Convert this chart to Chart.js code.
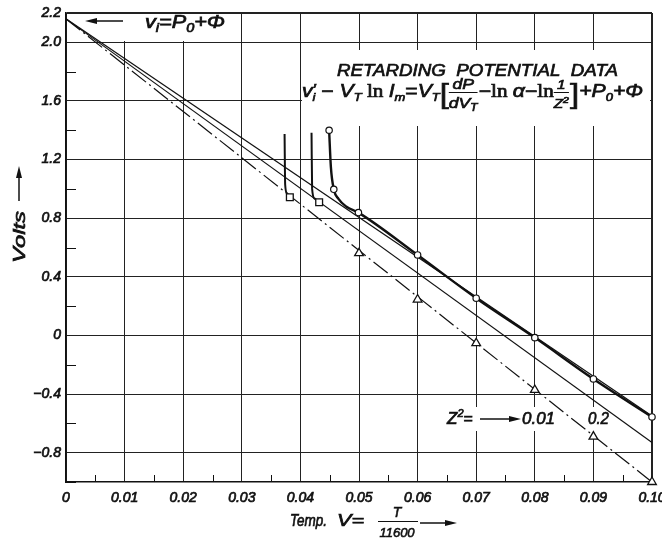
<!DOCTYPE html>
<html>
<head>
<meta charset="utf-8">
<script src="https://cdn.jsdelivr.net/npm/chart.js@4.4.1/dist/chart.umd.min.js"></script>
<style>
  html, body { margin: 0; padding: 0; background: #fff; }
</style>
</head>
<body>
<canvas id="chart" width="662" height="544"></canvas>
<script>
// axis ticks
const xMajor = [0, 0.01, 0.02, 0.03, 0.04, 0.05, 0.06, 0.07, 0.08, 0.09, 0.10];
const xMinor = [0.005, 0.015, 0.025, 0.035, 0.045, 0.055, 0.065, 0.075, 0.085, 0.095];
const yMajor = [-0.8, -0.4, 0, 0.4, 0.8, 1.2, 1.6, 2.0, 2.2];
const yMinor = [-1.0, -0.6, -0.2, 0.2, 0.6, 1.0, 1.4, 1.8];

// straight lines, all leaving v_i = P0 + Phi at V = 0
const lineX = [0, 0.10];
const upperLineY = [2.16, -0.55];
const middleLineY = [2.16, -0.73];
const dashLineY = [2.16, -1.0];

// measured points (circles) and the curve through them
const circleX = [0.0449, 0.0457, 0.0499, 0.06, 0.07, 0.08, 0.09, 0.10];
const circleY = [1.40, 0.997, 0.838, 0.549, 0.254, -0.015, -0.297, -0.556];
const circleCurveX = [0.0449, 0.0452, 0.0457, 0.0465, 0.0478, 0.0499, 0.06, 0.07, 0.08, 0.09, 0.10];
const circleCurveY = [1.40, 1.15, 0.997, 0.932, 0.880, 0.838, 0.549, 0.254, -0.015, -0.297, -0.556];

// squares and the two short curves ending on them
const squareX = [0.0382, 0.0432];
const squareY = [0.943, 0.909];
const sqCurve1X = [0.0373, 0.0374, 0.0377, 0.0382];
const sqCurve1Y = [1.375, 1.03, 0.97, 0.943];
const sqCurve2X = [0.0419, 0.0420, 0.0424, 0.0432];
const sqCurve2Y = [1.383, 1.00, 0.935, 0.909];

// triangles on the dash-dot line
const triX = [0.05, 0.06, 0.07, 0.08, 0.09, 0.10];
const triY = [0.561, 0.245, -0.053, -0.372, -0.690, -1.0];

const FONT = '"Liberation Sans", "DejaVu Sans", sans-serif';
const SERIF = '"Liberation Serif", serif';
const INK = '#111';

const pts = (xs, ys) => xs.map((x, i) => ({ x: x, y: ys[i] }));

function drawParts(ctx, x, y, parts, draw) {
  let cx = x;
  for (const p of parts) {
    if (p.frac) {
      const wn = drawParts(ctx, 0, 0, p.frac[0], false);
      const wd = drawParts(ctx, 0, 0, p.frac[1], false);
      const w = Math.max(wn, wd);
      if (draw) {
        drawParts(ctx, cx + (w - wn) / 2, y - 8, p.frac[0], true);
        drawParts(ctx, cx + (w - wd) / 2, y + 11, p.frac[1], true);
        ctx.fillRect(cx, y - 5, w, 1);
      }
      cx += w + 1;
      continue;
    }
    ctx.font = (p.st || 'italic') + ' ' + p.sz + 'px ' + (p.ff || FONT);
    if (draw) {
      ctx.fillText(p.t, cx + (p.dx || 0), y + (p.dy || 0));
      ctx.lineWidth = 0.7;
      ctx.strokeText(p.t, cx + (p.dx || 0), y + (p.dy || 0));
    }
    if (!p.na) cx += ctx.measureText(p.t).width + (p.dx || 0);
  }
  return cx - x;
}

function fitDraw(ctx, x, y, parts, width) {
  const w = drawParts(ctx, 0, 0, parts, false);
  ctx.save();
  ctx.translate(x, y);
  ctx.scale(width / w, 1);
  drawParts(ctx, 0, 0, parts, true);
  ctx.restore();
}

function arrow(ctx, x1, y1, x2, y2) {
  const a = Math.atan2(y2 - y1, x2 - x1);
  ctx.beginPath();
  ctx.moveTo(x1, y1);
  ctx.lineTo(x2 - 6 * Math.cos(a), y2 - 6 * Math.sin(a));
  ctx.lineWidth = 1.5;
  ctx.stroke();
  ctx.beginPath();
  ctx.moveTo(x2, y2);
  ctx.lineTo(x2 - 12 * Math.cos(a) + 3 * Math.sin(a), y2 - 12 * Math.sin(a) - 3 * Math.cos(a));
  ctx.lineTo(x2 - 12 * Math.cos(a) - 3 * Math.sin(a), y2 - 12 * Math.sin(a) + 3 * Math.cos(a));
  ctx.closePath();
  ctx.fill();
}

const paperPlugin = {
  id: 'paper',
  beforeDatasetsDraw(chart) {
    const ctx = chart.ctx;
    const xs = chart.scales.x, ys = chart.scales.y;
    const area = chart.chartArea;
    ctx.save();
    // white patches behind the texts
    ctx.fillStyle = '#fff';
    ctx.fillRect(68, 14, 168, 27);
    ctx.fillRect(302, 50, 348, 76);
    ctx.fillRect(444, 407, 114, 24);
    ctx.fillRect(585, 407, 28, 24);
    // short minor ticks pointing into the plot
    ctx.strokeStyle = INK;
    ctx.lineWidth = 1;
    ctx.beginPath();
    for (const v of xMinor) {
      const px = Math.round(xs.getPixelForValue(v)) + 0.5;
      ctx.moveTo(px, area.bottom);
      ctx.lineTo(px, area.bottom - 7);
    }
    for (const v of yMinor) {
      const py = Math.round(ys.getPixelForValue(v)) + 0.5;
      ctx.moveTo(area.left, py);
      ctx.lineTo(area.left + 10, py);
    }
    ctx.stroke();
    ctx.restore();
  },
  afterDraw(chart) {
    const ctx = chart.ctx;
    ctx.save();
    ctx.fillStyle = INK;
    ctx.strokeStyle = INK;
    ctx.textBaseline = 'alphabetic';

    // top-left: arrow and v_i = P0 + Phi
    arrow(ctx, 123, 21, 85, 21);
    fitDraw(ctx, 145, 28, [
      { t: 'v', sz: 18 }, { t: 'i', sz: 12, dy: 4 }, { t: '=P', sz: 18 },
      { t: '0', sz: 12, dy: 4 }, { t: '+Φ', sz: 18 }
    ], 80);

    // title
    fitDraw(ctx, 337, 76, [{ t: 'RETARDING  POTENTIAL  DATA', sz: 17 }], 281);

    // formula
    const S = 18, s = 11;
    fitDraw(ctx, 302, 97, [
      { t: 'v', sz: S }, { t: '′', sz: 15, dx: 0, dy: -3, na: true }, { t: 'i', sz: s, dy: 4 },
      { t: ' − ', sz: S, st: 'normal' },
      { t: 'V', sz: S }, { t: 'T', sz: s, dy: 4 },
      { t: ' ln ', sz: S, st: 'normal', ff: SERIF },
      { t: 'I', sz: S }, { t: 'm', sz: s, dy: 4 },
      { t: '=', sz: S, st: 'normal' },
      { t: 'V', sz: S }, { t: 'T', sz: s, dy: 4 },
      { t: '[', sz: 28, st: 'normal', dy: 6 },
      { frac: [[{ t: 'dP', sz: 15 }], [{ t: 'dV', sz: 15 }, { t: 'T', sz: 10, dy: 3 }]] },
      { t: '−', sz: S, st: 'normal' }, { t: 'ln ', sz: S, st: 'normal', ff: SERIF },
      { t: 'α', sz: S }, { t: '−', sz: S, st: 'normal' },
      { t: 'ln', sz: S, st: 'normal', ff: SERIF },
      { frac: [[{ t: '1', sz: 13 }], [{ t: 'Z', sz: 13 }, { t: '2', sz: 9, dy: -5 }]] },
      { t: ']', sz: 28, st: 'normal', dy: 6 },
      { t: '+P', sz: S }, { t: '0', sz: s, dy: 4 }, { t: '+Φ', sz: S }
    ], 341);

    // Z^2 = -> 0.01   0.2
    drawParts(ctx, 447, 424, [
      { t: 'Z', sz: 17 }, { t: '2', sz: 11, dy: -7 }, { t: '=', sz: 16, st: 'normal' }
    ], true);
    arrow(ctx, 480, 419, 521, 419);
    fitDraw(ctx, 522, 424, [{ t: '0.01', sz: 17 }], 33);
    fitDraw(ctx, 588, 424, [{ t: '0.2', sz: 17 }], 21);

    // y axis title
    ctx.save();
    ctx.translate(25, 263);
    ctx.rotate(-Math.PI / 2);
    fitDraw(ctx, 0, 0, [{ t: 'Volts', sz: 17 }], 52);
    ctx.restore();
    arrow(ctx, 19, 201, 19, 166);

    // x axis title
    fitDraw(ctx, 290, 526, [{ t: 'Temp.', sz: 17 }], 37);
    fitDraw(ctx, 337, 526, [{ t: 'V=', sz: 17 }], 27);
    ctx.fillRect(378, 521, 40, 1);
    ctx.textAlign = 'center';
    ctx.lineWidth = 0.6;
    ctx.font = 'italic 14px ' + FONT;
    ctx.fillText('T', 397, 517);
    ctx.strokeText('T', 397, 517);
    ctx.font = 'italic 13px ' + FONT;
    ctx.fillText('11600', 397, 537);
    ctx.strokeText('11600', 397, 537);
    ctx.textAlign = 'left';
    arrow(ctx, 420, 523, 457, 523);
    ctx.restore();
  }
};

const tickFont = { family: FONT, size: 14, style: 'italic' };

new Chart(document.getElementById('chart'), {
  type: 'scatter',
  data: {
    datasets: [
      { data: pts(circleX, circleY), showLine: false, pointStyle: 'circle', pointRadius: 3.2,
        pointBackgroundColor: '#fff', pointBorderColor: INK, pointBorderWidth: 1.2, clip: false, order: 0 },
      { data: pts(squareX, squareY), showLine: false, pointStyle: 'rect', pointRadius: 4.8,
        pointBackgroundColor: '#fff', pointBorderColor: INK, pointBorderWidth: 1.3, clip: false, order: 0 },
      { data: pts(triX, triY), showLine: false, pointStyle: 'triangle', pointRadius: 5,
        pointBackgroundColor: '#fff', pointBorderColor: INK, pointBorderWidth: 1.3, clip: false, order: 0 },
      { data: pts(lineX, upperLineY), showLine: true, borderColor: INK, borderWidth: 1.2, pointRadius: 0, order: 1 },
      { data: pts(lineX, middleLineY), showLine: true, borderColor: INK, borderWidth: 1.2, pointRadius: 0, order: 1 },
      { data: pts(lineX, dashLineY), showLine: true, borderColor: INK, borderWidth: 1.2, pointRadius: 0,
        borderDash: [18, 4, 2, 4], order: 1 },
      { data: pts(circleCurveX, circleCurveY), showLine: true, borderColor: INK, borderWidth: 2.4, pointRadius: 0,
        cubicInterpolationMode: 'monotone', order: 1 },
      { data: pts(sqCurve1X, sqCurve1Y), showLine: true, borderColor: INK, borderWidth: 2, pointRadius: 0,
        cubicInterpolationMode: 'monotone', order: 1 },
      { data: pts(sqCurve2X, sqCurve2Y), showLine: true, borderColor: INK, borderWidth: 2, pointRadius: 0,
        cubicInterpolationMode: 'monotone', order: 1 }
    ]
  },
  options: {
    responsive: false,
    animation: false,
    devicePixelRatio: 1,
    layout: { padding: { top: 13, right: 10, left: 0, bottom: 0 } },
    plugins: { legend: { display: false }, tooltip: { enabled: false } },
    scales: {
      x: {
        type: 'linear', min: 0, max: 0.10,
        afterBuildTicks: (s) => { s.ticks = xMajor.map(v => ({ value: v })); },
        afterFit: (s) => { s.height = 62; s.paddingLeft = 0; s.paddingRight = 0; },
        grid: { color: '#222', lineWidth: (c) => (c.tick && c.tick.value > 0.0999 ? 2 : 1), drawTicks: false },
        border: { color: INK, width: 1.5 },
        ticks: { autoSkip: false, maxRotation: 0, padding: 8, color: INK, font: tickFont,
          textStrokeColor: INK, textStrokeWidth: 0.7,
          callback: (v) => (v === 0 ? '0' : v.toFixed(2)) }
      },
      y: {
        type: 'linear', min: -1.0, max: 2.2,
        afterBuildTicks: (s) => { s.ticks = yMajor.map(v => ({ value: v })); },
        afterFit: (s) => { s.width = 66; s.paddingTop = 0; s.paddingBottom = 0; },
        grid: { color: '#222', lineWidth: (c) => (c.tick && c.tick.value > 2.19 ? 2 : 1), drawTicks: false },
        border: { color: INK, width: 1.5 },
        ticks: { autoSkip: false, padding: 5, color: INK, font: tickFont,
          textStrokeColor: INK, textStrokeWidth: 0.7,
          callback: (v) => (v === 0 ? '0' : (v < 0 ? '−' : '') + Math.abs(v).toFixed(1)) }
      }
    }
  },
  plugins: [paperPlugin]
});
</script>
</body>
</html>
